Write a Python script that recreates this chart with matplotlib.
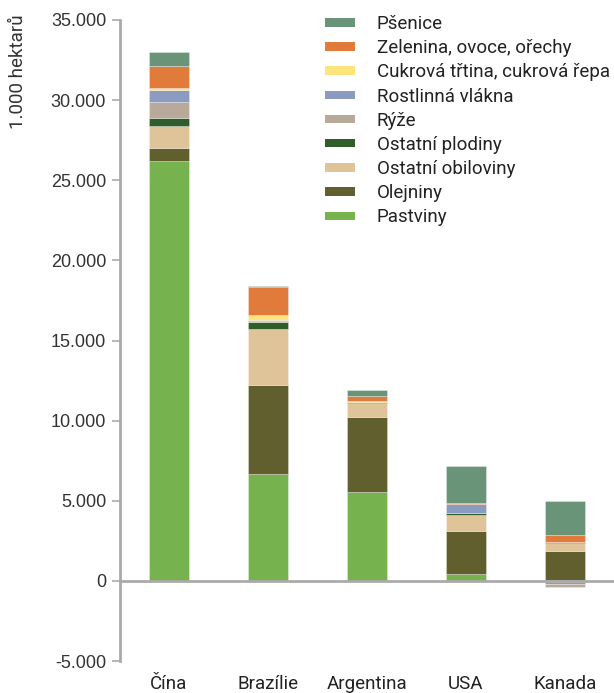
import matplotlib
matplotlib.use("Agg")
import matplotlib.pyplot as plt
import numpy as np

# Land footprint by crop group, thousand hectares
countries = ["Čína", "Brazílie", "Argentina", "USA", "Kanada"]

series_names = [
    "Pastviny",
    "Olejniny",
    "Ostatní obiloviny",
    "Ostatní plodiny",
    "Rýže",
    "Rostlinná vlákna",
    "Cukrová třtina, cukrová řepa",
    "Zelenina, ovoce, ořechy",
    "Pšenice",
]

pastviny = [26200, 6700, 5520, 440, 40]
olejniny = [800, 5550, 4690, 2690, 1840]
ostatni_obiloviny = [1360, 3480, 870, 1000, 480]
ostatni_plodiny = [550, 410, 80, 100, 80]
ryze = [980, 50, 30, 0, -180]
rostlinna_vlakna = [750, 100, 0, 560, -80]
cukrova = [140, 330, 60, -80, -100]
zelenina = [1370, 1700, 280, 80, 415]
psenice = [850, 60, 350, 2310, 2135]

colors = [
    "#76b24e",  # Pastviny
    "#625f2e",  # Olejniny
    "#dfc399",  # Ostatní obiloviny
    "#305e2a",  # Ostatní plodiny
    "#b8a99a",  # Rýže
    "#8b9bbf",  # Rostlinná vlákna
    "#fde57b",  # Cukrová třtina
    "#e07b3c",  # Zelenina
    "#6a9478",  # Pšenice
]

data = np.array([pastviny, olejniny, ostatni_obiloviny, ostatni_plodiny, ryze,
                 rostlinna_vlakna, cukrova, zelenina, psenice], dtype=float)

W, H = 614, 693
fig = plt.figure(figsize=(W / 100, H / 100), dpi=100)
ax = fig.add_axes([120 / W, 1 - 661 / H, (W - 120) / W, (661 - 20) / H])

x = np.arange(len(countries))
bar_w = 0.404
edge = (1, 1, 1, 0.3)

# positive values stack upward from zero
pos_bottom = np.zeros(len(countries))
handles = []
for i, (name, col) in enumerate(zip(series_names, colors)):
    vals = np.clip(data[i], 0, None)
    b = ax.bar(x, vals, bar_w, bottom=pos_bottom, color=col, edgecolor=edge,
               linewidth=0.7, label=name, zorder=2)
    handles.append(b)
    pos_bottom += vals

# negative values stack downward, top series nearest to zero
neg_bottom = np.zeros(len(countries))
for i in reversed(range(len(series_names))):
    vals = np.clip(data[i], None, 0)
    if np.any(vals < 0):
        ax.bar(x, vals, bar_w, bottom=neg_bottom, color=colors[i], edgecolor=edge,
               linewidth=0.7, zorder=2)
        neg_bottom += vals

ax.set_xlim(-0.495, 4.495)
ax.set_ylim(-5000, 35000)
ax.axhline(0, color="#aaaaaa", linewidth=2, zorder=3)

for s in ["top", "right", "bottom"]:
    ax.spines[s].set_visible(False)
ax.spines["left"].set_color("#aaaaaa")
ax.spines["left"].set_linewidth(2)

yticks = np.arange(-5000, 35001, 5000)
ax.set_yticks(yticks)
ax.set_yticklabels([f"{v:,}".replace(",", ".") for v in yticks],
                   fontfamily="Liberation Sans", fontsize=13, color="#333333")
ax.tick_params(axis="y", length=6, width=1.2, color="#aaaaaa", pad=4)

ax.set_xticks(x)
ax.set_xticklabels(countries, fontfamily="Roboto", fontsize=13.5, color="#222222")
ax.tick_params(axis="x", length=0, pad=10)

fig.text(18 / W, 1 - 14 / H, "1.000 hektarů", rotation=90, va="top", ha="center",
         fontfamily="Roboto", fontsize=13.5, color="#333333")

leg = ax.legend(handles[::-1], series_names[::-1], loc="upper left",
                bbox_to_anchor=(325 / W, 1 - 15 / H), bbox_transform=fig.transFigure,
                frameon=False, prop={"family": "Roboto", "size": 13.5},
                handlelength=1.6, handleheight=0.32, handletextpad=1.15,
                labelspacing=0.33, borderaxespad=0, borderpad=0)
for t in leg.get_texts():
    t.set_color("#222222")
for p in leg.get_patches():
    p.set_edgecolor("none")

fig.savefig("out.png", dpi=100)
